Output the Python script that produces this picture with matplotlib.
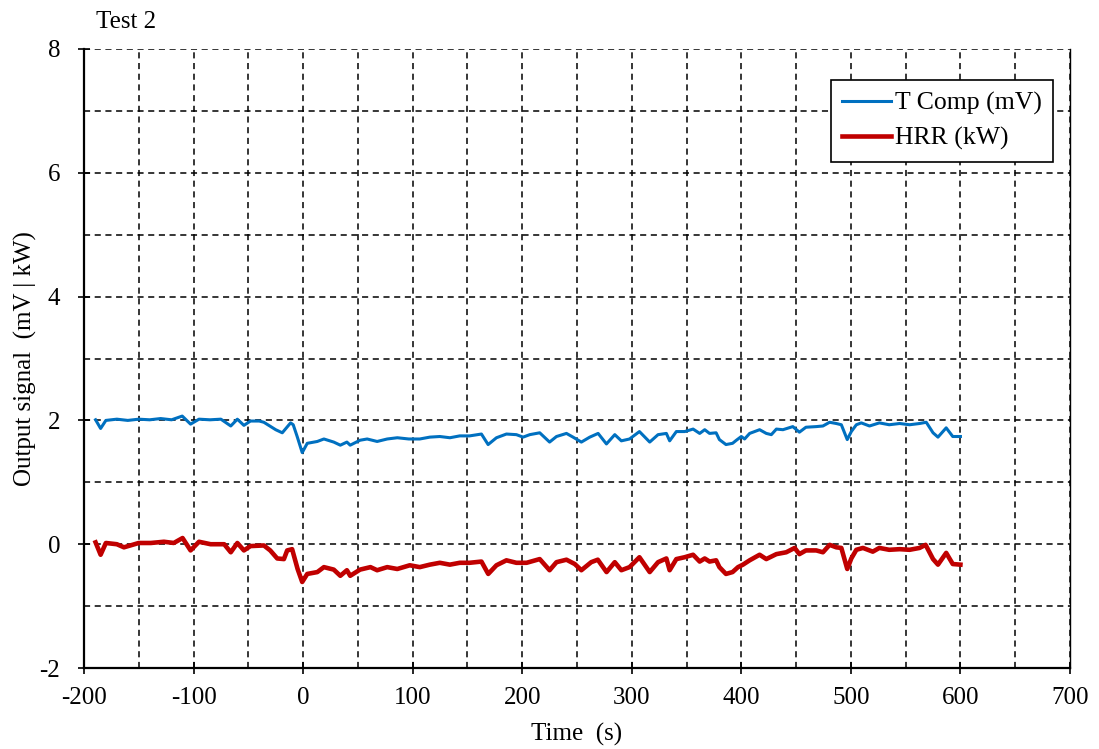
"""
Test 2: T Comp output vs heat release rate, values read off the original chart.
writes out.png
"""

import matplotlib
matplotlib.use("Agg")
import matplotlib.pyplot as plt
from matplotlib.ticker import MultipleLocator

# T Comp (mV)
t_comp_time = [-189.4, -184.8, -180, -170, -160, -150, -140, -130, -120, -110.3,
               -102.7, -95, -85, -75, -66, -60, -54, -48, -40, -35.8,
               -25, -19, -11.4, -9, -5.4, -0.8, 3.8, 13, 19, 28,
               34, 40, 43, 52, 58.5, 67.6, 76.8, 86, 96.5, 106.5,
               115.7, 124.8, 134, 143, 152, 162.8, 168.9, 176.5, 185.6, 194.7,
               200.8, 206.9, 216, 225, 231.3, 240.4, 246.4, 254, 261.7, 269.3,
               276.9, 284.5, 290.5, 298, 307, 316.4, 324, 331.6, 334.6, 340.7,
               348.3, 356, 362, 366.6, 371, 377, 380, 386, 392, 395.5,
               400, 403, 407.6, 416.7, 422.8, 427.4, 432, 438, 447, 453,
               459, 468.4, 474.5, 480.6, 486.7, 491.3, 496.7, 500.4, 505, 509.5,
               517, 526, 535, 544.5, 553.6, 562.7, 568.8, 575, 579.5, 587,
               593, 600]
t_comp = [2.01, 1.87, 2.00, 2.02, 2.00, 2.02, 2.01, 2.03, 2.01, 2.07,
          1.94, 2.02, 2.01, 2.02, 1.91, 2.02, 1.92, 1.99, 1.99, 1.97,
          1.85, 1.80, 1.96, 1.93, 1.74, 1.48, 1.63, 1.66, 1.70, 1.65,
          1.60, 1.65, 1.60, 1.68, 1.70, 1.66, 1.70, 1.72, 1.70, 1.70,
          1.73, 1.74, 1.72, 1.75, 1.75, 1.78, 1.61, 1.72, 1.78, 1.77,
          1.73, 1.77, 1.80, 1.65, 1.74, 1.79, 1.73, 1.65, 1.73, 1.79,
          1.62, 1.77, 1.67, 1.70, 1.82, 1.65, 1.77, 1.79, 1.67, 1.82,
          1.82, 1.86, 1.79, 1.85, 1.79, 1.80, 1.69, 1.61, 1.63, 1.68,
          1.74, 1.70, 1.79, 1.85, 1.79, 1.77, 1.86, 1.85, 1.90, 1.81,
          1.89, 1.90, 1.91, 1.97, 1.95, 1.93, 1.69, 1.82, 1.93, 1.96,
          1.91, 1.96, 1.93, 1.95, 1.93, 1.95, 1.97, 1.80, 1.73, 1.88,
          1.74, 1.74]

# HRR (kW)
hrr_time = [-189.4, -184.8, -180, -170, -163.5, -150, -139, -127, -118, -110,
            -102.7, -95, -84.4, -72, -66, -60, -54, -48, -35.8, -30,
            -23.6, -17.5, -14.5, -10, -5, -0.8, 3.8, 13, 19, 28,
            34, 40, 43, 52, 61.5, 67.6, 76.8, 86, 97.4, 106.5,
            115.7, 124.8, 134, 143, 152, 162.8, 169, 176.5, 185.6, 194.7,
            204, 216, 225, 231.3, 240.4, 248, 254, 263, 269, 277,
            284.5, 290.5, 298, 307, 316.4, 324, 331.6, 334.6, 340.7, 348.3,
            356, 362, 366.6, 371, 377, 380, 386, 392, 397, 401.5,
            407.6, 416.7, 422.8, 432, 441, 448.7, 453, 459, 468.4, 474.5,
            480.6, 486.7, 491.3, 496.7, 500.4, 505, 511, 520, 526, 535,
            544.5, 553.6, 562.7, 568.2, 575, 579.5, 587, 593, 600]
hrr = [0.03, -0.17, 0.02, 0.00, -0.05, 0.02, 0.02, 0.04, 0.02, 0.10,
       -0.10, 0.04, 0.00, 0.00, -0.13, 0.02, -0.10, -0.03, -0.02, -0.10,
       -0.23, -0.24, -0.10, -0.08, -0.40, -0.61, -0.48, -0.45, -0.37, -0.41,
       -0.51, -0.42, -0.51, -0.41, -0.37, -0.42, -0.37, -0.40, -0.34, -0.37,
       -0.33, -0.30, -0.33, -0.30, -0.30, -0.28, -0.48, -0.34, -0.26, -0.30,
       -0.30, -0.24, -0.42, -0.29, -0.25, -0.32, -0.42, -0.29, -0.25, -0.45,
       -0.29, -0.42, -0.37, -0.21, -0.45, -0.29, -0.23, -0.42, -0.24, -0.21,
       -0.17, -0.28, -0.23, -0.28, -0.26, -0.37, -0.48, -0.45, -0.37, -0.33,
       -0.26, -0.17, -0.24, -0.16, -0.13, -0.06, -0.16, -0.10, -0.10, -0.13,
       -0.01, -0.05, -0.06, -0.40, -0.23, -0.09, -0.06, -0.12, -0.06, -0.09,
       -0.08, -0.09, -0.06, -0.01, -0.24, -0.33, -0.14, -0.32, -0.33]

plt.rcParams["font.family"] = ["Liberation Serif", "DejaVu Serif"]
plt.rcParams["font.size"] = 18
plt.rcParams["axes.unicode_minus"] = False  # plain hyphen like the original

fig = plt.figure(figsize=(10.99, 7.49), dpi=100)
ax = fig.add_axes([0.0764, 0.1081, 0.8972, 0.8265])

ax.plot(t_comp_time, t_comp, color="#0070C0", lw=2.2, label="T Comp (mV)")
ax.plot(hrr_time, hrr, color="#C00000", lw=3.3, label="HRR (kW)")

ax.set_xlim(-200, 700)
ax.set_ylim(-2, 8)
ax.xaxis.set_major_locator(MultipleLocator(100))
ax.xaxis.set_minor_locator(MultipleLocator(50))
ax.yaxis.set_major_locator(MultipleLocator(2))
ax.yaxis.set_minor_locator(MultipleLocator(1))
ax.grid(which="both", color="black", ls=(0, (4, 3)), lw=1.1)
ax.tick_params(which="major", direction="inout", length=8, width=1.2, labelsize=18)
ax.tick_params(axis="x", which="major", pad=10)
ax.tick_params(axis="y", which="major", pad=13)
ax.tick_params(which="minor", length=0)

ax.spines["top"].set_visible(False)
ax.spines["left"].set_linewidth(1.6)
ax.spines["bottom"].set_linewidth(1.6)
ax.spines["right"].set_linewidth(1.0)

ax.set_xlabel("Time  (s)", fontsize=18, labelpad=10)
ax.set_ylabel("Output signal  (mV | kW)", fontsize=18, labelpad=2)
fig.text(0.087, 0.963, "Test 2", fontsize=18)

leg = ax.legend(loc="upper right", bbox_to_anchor=(0.996, 0.97), fancybox=False,
                framealpha=1, edgecolor="black", handlelength=1.9, borderpad=0.45,
                handletextpad=0.15, labelspacing=0.45, fontsize=18.5)
leg.get_frame().set_linewidth(1.2)

fig.savefig("out.png", dpi=100)
